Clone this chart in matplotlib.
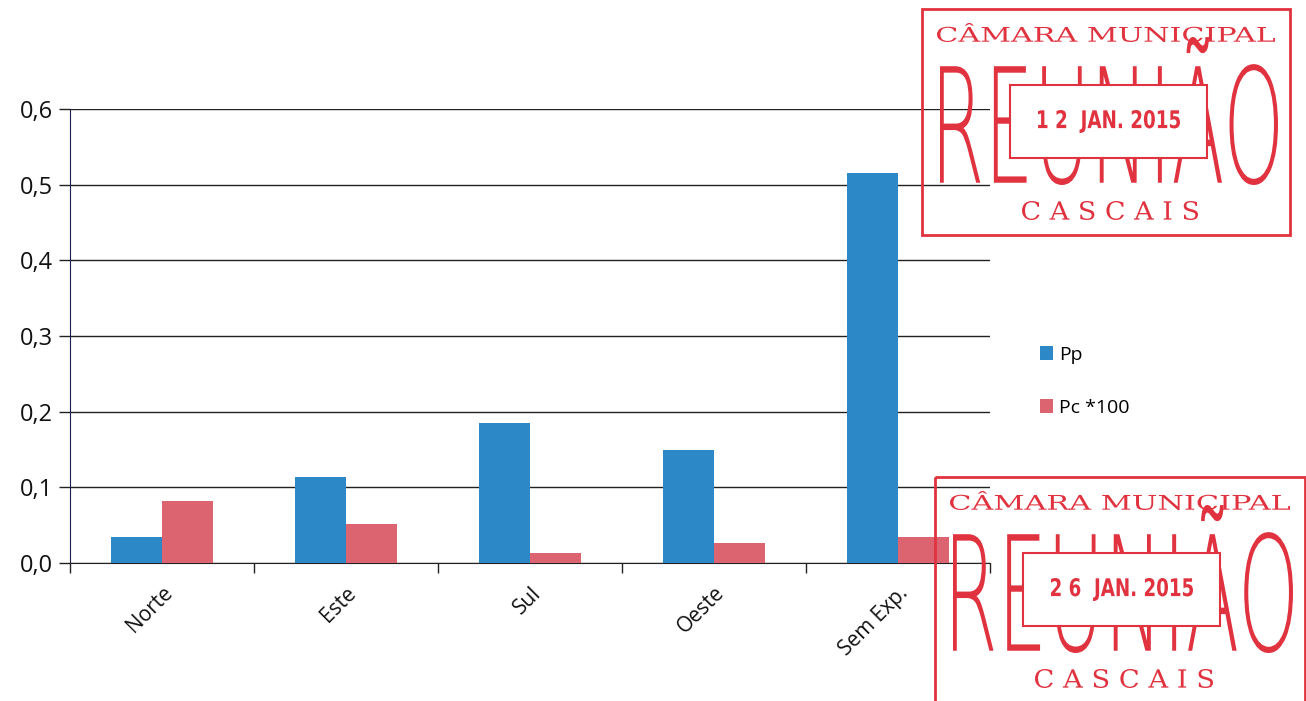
import numpy as np
import matplotlib.pyplot as plt
from matplotlib.patches import Rectangle, PathPatch
from matplotlib.textpath import TextPath
from matplotlib.font_manager import FontProperties
from matplotlib.transforms import Affine2D

categories = ['Norte', 'Este', 'Sul', 'Oeste', 'Sem Exp.']
pp = [0.034, 0.114, 0.185, 0.149, 0.515]
pc100 = [0.082, 0.052, 0.013, 0.026, 0.034]
series_names = ['Pp', 'Pc *100']
y_ticks = [0.0, 0.1, 0.2, 0.3, 0.4, 0.5, 0.6]
stamp_dates = ['1 2  JAN. 2015', '2 6  JAN. 2015']

blue = '#2d88c8'
red = '#dc6470'
ink = '#e0323f'

W, H = 1306, 701
fig = plt.figure(figsize=(W / 100, H / 100), dpi=100)
ax = fig.add_axes([70 / W, 1 - 563 / H, 920 / W, 454 / H])

x = np.arange(len(categories))
bw = 0.277
ax.bar(x - bw / 2, pp, bw, color=blue, label=series_names[0], zorder=3)
ax.bar(x + bw / 2, pc100, bw, color=red, label=series_names[1], zorder=3)

ax.set_xlim(-0.5, len(categories) - 0.5)
ax.set_ylim(0, 0.6)
ax.set_yticks(y_ticks)
ax.set_yticklabels([f'{v:.1f}'.replace('.', ',') for v in y_ticks],
                   fontsize=17, family='Open Sans', color='#111111')
ax.yaxis.grid(True, color='#222222', lw=1.0, zorder=0)
ax.tick_params(axis='y', length=8, width=1, color='#222222', pad=4)

ax.set_xticks(x)
ax.set_xticklabels(categories, rotation=45, ha='right', rotation_mode='anchor',
                   fontsize=15, family='Open Sans', color='#111111')
ax.tick_params(axis='x', length=0, pad=14)
ax.set_xticks(np.arange(len(categories) + 1) - 0.5, minor=True)
ax.tick_params(axis='x', which='minor', length=7, width=1, color='#222222')

for s in ['top', 'right']:
    ax.spines[s].set_visible(False)
ax.spines['left'].set_color('#1a2050')
ax.spines['bottom'].set_color('#222222')

ax.legend(loc='center left', bbox_to_anchor=(1.035, 0.40), frameon=False,
          prop={'family': 'Open Sans', 'size': 14}, handlelength=0.7,
          handleheight=0.7, labelspacing=1.8, handletextpad=0.3)

# stamps, drawn in figure pixel coords (y from top)
px = Affine2D().scale(1 / W, -1 / H).translate(0, 1) + fig.transFigure


def fit_text(s, x0, y0, x1, y1, prop, color, z=10):
    tp = TextPath((0, 0), s, size=1, prop=prop)
    bb = tp.get_extents()
    t = Affine2D().translate(-bb.x0, -bb.y0).scale((x1 - x0) / bb.width,
                                                   -(y1 - y0) / bb.height)
    t = t.translate(x0, y1)
    fig.add_artist(PathPatch(tp, transform=t + px, color=color, lw=0,
                             zorder=z))


big = FontProperties(family='DejaVu Sans', weight='light')
small = FontProperties(family='DejaVu Serif')
date_font = FontProperties(family='DejaVu Sans', weight='bold',
                           stretch='condensed')

stamps = [(922, 9, 1290, 235), (935, 477, 1305, 712)]
for (sx0, sy0, sx1, sy1), date in zip(stamps, stamp_dates):
    fig.add_artist(Rectangle((sx0, sy0), sx1 - sx0, sy1 - sy0, transform=px,
                             fill=False, ec=ink, lw=2, zorder=10))
    fit_text('CÂMARA MUNICIPAL', sx0 + 15, sy0 + 14, sx1 - 15, sy0 + 33,
             small, ink)
    fit_text('REUNIÃO', sx0 + 18, sy0 + 28, sx1 - 12, sy0 + 176, big, ink)
    fit_text('C A S C A I S', sx0 + 100, sy0 + 192, sx1 - 92, sy0 + 211,
             small, ink)
    bx0, by0 = sx0 + 88, sy0 + 76
    fig.add_artist(Rectangle((bx0, by0), 197, 73, transform=px,
                             fc='white', ec=ink, lw=1.5, zorder=11))
    fit_text(date, bx0 + 28, by0 + 25, bx0 + 170, by0 + 48, date_font, ink,
             z=12)

fig.savefig('out.png', dpi=100)
